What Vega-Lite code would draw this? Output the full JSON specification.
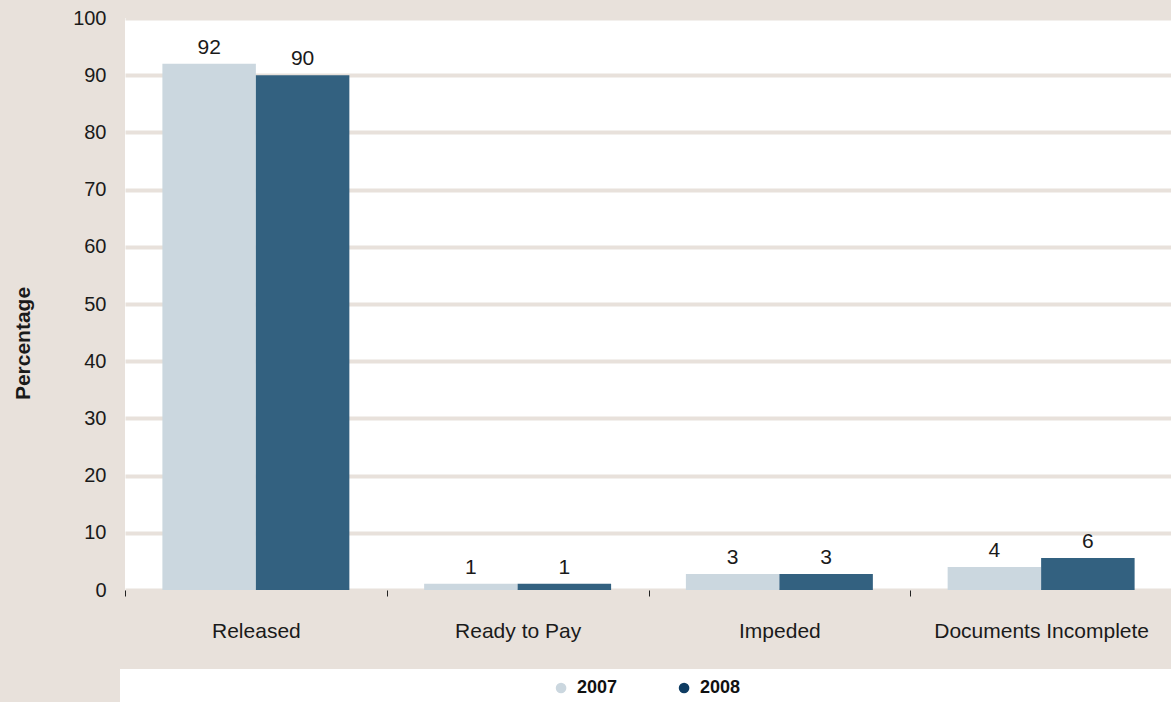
{
  "$schema": "https://vega.github.io/schema/vega-lite/v6.json",
  "background": "#e8e1db",
  "padding": {"left": 12, "top": 8, "right": 0, "bottom": 0},
  "config": {
    "font": "Liberation Sans",
    "view": {"stroke": null},
    "axis": {"labelColor": "#1a1a1a", "titleColor": "#1a1a1a", "labelFontSize": 20}
  },
  "spacing": 28,
  "resolve": {"scale": {"color": "independent", "x": "independent"}},
  "vconcat": [
    {
      "width": 1047,
      "height": 572,
      "view": {"fill": "white", "stroke": null},
      "data": {
        "values": [
          {"category": "Released", "year": "2007", "value": 92, "label": "92"},
          {"category": "Released", "year": "2008", "value": 90, "label": "90"},
          {"category": "Ready to Pay", "year": "2007", "value": 1.1, "label": "1"},
          {"category": "Ready to Pay", "year": "2008", "value": 1.1, "label": "1"},
          {"category": "Impeded", "year": "2007", "value": 2.8, "label": "3"},
          {"category": "Impeded", "year": "2008", "value": 2.8, "label": "3"},
          {"category": "Documents Incomplete", "year": "2007", "value": 4.0, "label": "4"},
          {"category": "Documents Incomplete", "year": "2008", "value": 5.6, "label": "6"}
        ]
      },
      "encoding": {
        "x": {
          "field": "category", "type": "nominal",
          "sort": ["Released", "Ready to Pay", "Impeded", "Documents Incomplete"],
          "scale": {"paddingInner": 0, "paddingOuter": 0},
          "axis": {
            "title": null, "labelAngle": 0, "domain": false, "labelFontSize": 21, "labelLimit": 400,
            "tickBand": "extent", "tickSize": 6, "tickColor": "#222222", "tickWidth": 1,
            "labelPadding": 24, "labelBaseline": "top"
          }
        },
        "xOffset": {
          "field": "year", "type": "nominal",
          "scale": {"paddingOuter": 0.4, "paddingInner": 0}
        },
        "y": {
          "field": "value", "type": "quantitative",
          "scale": {"domain": [0, 100], "nice": false},
          "axis": {
            "title": "Percentage", "titleFontSize": 21, "titleFontWeight": "bold",
            "titleX": -102, "titleY": 325, "titleAlign": "center", "titleBaseline": "middle", "titleAngle": -90,
            "values": [0, 10, 20, 30, 40, 50, 60, 70, 80, 90, 100],
            "domain": false, "ticks": false, "labelPadding": 19,
            "grid": true, "gridColor": "#e8e1db", "gridWidth": 4, "gridOpacity": 1
          }
        }
      },
      "layer": [
        {
          "mark": {"type": "bar"},
          "encoding": {
            "color": {
              "field": "year", "type": "nominal",
              "scale": {"domain": ["2007", "2008"], "range": ["#cbd7df", "#336180"]},
              "legend": null
            }
          }
        },
        {
          "mark": {"type": "text", "baseline": "alphabetic", "dy": -10, "fontSize": 21, "color": "#1a1a1a"},
          "encoding": {"text": {"field": "label"}}
        }
      ]
    },
    {
      "width": 1047,
      "height": 28,
      "view": {"fill": "white", "stroke": "white", "strokeWidth": 10},
      "data": {"values": [{"year": 2007, "label": "2007"}, {"year": 2008, "label": "2008"}]},
      "encoding": {
        "x": {
          "field": "year", "type": "quantitative",
          "scale": {"domain": [2003.455, 2011.967], "nice": false, "zero": false},
          "axis": null
        }
      },
      "layer": [
        {
          "mark": {"type": "point", "filled": true, "size": 113, "opacity": 1},
          "encoding": {
            "color": {
              "field": "label", "type": "nominal",
              "scale": {"domain": ["2007", "2008"], "range": ["#cbd7df", "#0e3c62"]},
              "legend": null
            }
          }
        },
        {
          "mark": {"type": "text", "align": "left", "baseline": "middle", "dx": 16, "fontSize": 18, "fontWeight": "bold", "color": "#111111"},
          "encoding": {"text": {"field": "label"}}
        }
      ]
    }
  ]
}
